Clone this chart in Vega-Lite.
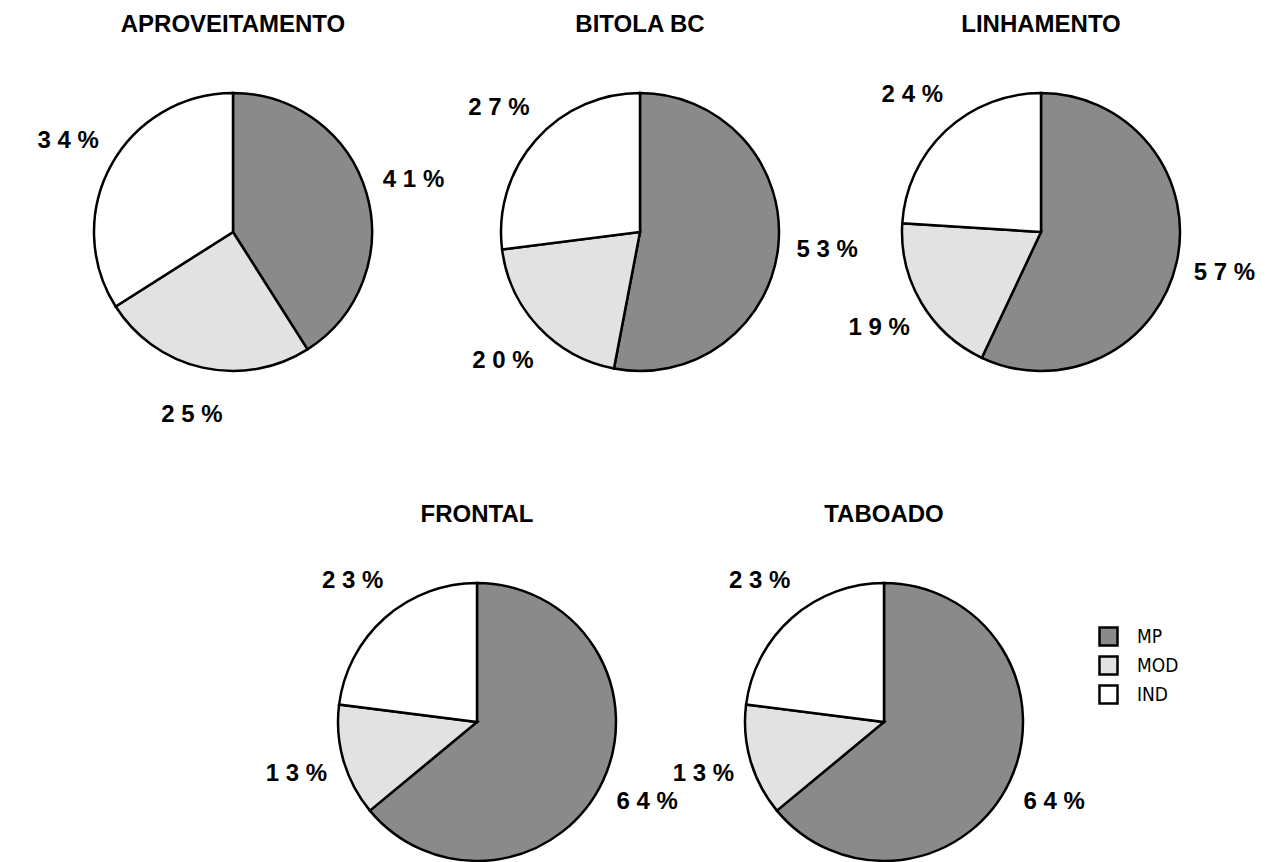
{
  "$schema": "https://vega.github.io/schema/vega-lite/v6.json",
  "background": "white",
  "padding": {"left": 37, "top": 13, "right": 10, "bottom": 0},
  "data": {"values": [
    {"chart": "APROVEITAMENTO", "cat": "MP", "seq": 1, "value": 41, "label": "4 1 %"},
    {"chart": "APROVEITAMENTO", "cat": "MOD", "seq": 2, "value": 25, "label": "2 5 %"},
    {"chart": "APROVEITAMENTO", "cat": "IND", "seq": 3, "value": 34, "label": "3 4 %"},
    {"chart": "BITOLA BC", "cat": "MP", "seq": 1, "value": 53, "label": "5 3 %"},
    {"chart": "BITOLA BC", "cat": "MOD", "seq": 2, "value": 20, "label": "2 0 %"},
    {"chart": "BITOLA BC", "cat": "IND", "seq": 3, "value": 27, "label": "2 7 %"},
    {"chart": "LINHAMENTO", "cat": "MP", "seq": 1, "value": 57, "label": "5 7 %"},
    {"chart": "LINHAMENTO", "cat": "MOD", "seq": 2, "value": 19, "label": "1 9 %"},
    {"chart": "LINHAMENTO", "cat": "IND", "seq": 3, "value": 24, "label": "2 4 %"},
    {"chart": "FRONTAL", "cat": "MP", "seq": 1, "value": 64, "label": "6 4 %"},
    {"chart": "FRONTAL", "cat": "MOD", "seq": 2, "value": 13, "label": "1 3 %"},
    {"chart": "FRONTAL", "cat": "IND", "seq": 3, "value": 23, "label": "2 3 %"},
    {"chart": "TABOADO", "cat": "MP", "seq": 1, "value": 64, "label": "6 4 %"},
    {"chart": "TABOADO", "cat": "MOD", "seq": 2, "value": 13, "label": "1 3 %"},
    {"chart": "TABOADO", "cat": "IND", "seq": 3, "value": 23, "label": "2 3 %"}
  ]},
  "spacing": 75,
  "vconcat": [
    {
      "spacing": 124,
      "bounds": "flush",
      "hconcat": [
        {
          "title": "APROVEITAMENTO",
          "width": 280, "height": 310,
          "transform": [{"filter": "datum.chart === 'APROVEITAMENTO'"}],
          "encoding": {
            "theta": {"field": "value", "type": "quantitative", "stack": true},
            "order": {"field": "seq", "type": "quantitative"}
          },
          "layer": [
            {"mark": {"type": "arc", "outerRadius": 139, "stroke": "black", "strokeWidth": 2.5},
             "encoding": {"color": {"field": "cat", "type": "nominal", "title": null, "scale": {"domain": ["MP", "MOD", "IND"], "range": ["#8a8a8a", "#e2e2e2", "#ffffff"]}}}},
            {"mark": {"type": "text", "radius": 188, "fontSize": 24, "fontWeight": "bold", "color": "black"},
             "encoding": {"text": {"field": "label"}, "detail": {"field": "cat"}}}
          ]
        },
        {
          "title": "BITOLA BC",
          "width": 286, "height": 310,
          "transform": [{"filter": "datum.chart === 'BITOLA BC'"}],
          "encoding": {
            "theta": {"field": "value", "type": "quantitative", "stack": true},
            "order": {"field": "seq", "type": "quantitative"}
          },
          "layer": [
            {"mark": {"type": "arc", "outerRadius": 139, "stroke": "black", "strokeWidth": 2.5},
             "encoding": {"color": {"field": "cat", "type": "nominal", "title": null, "scale": {"domain": ["MP", "MOD", "IND"], "range": ["#8a8a8a", "#e2e2e2", "#ffffff"]}}}},
            {"mark": {"type": "text", "radius": 188, "fontSize": 24, "fontWeight": "bold", "color": "black"},
             "encoding": {"text": {"field": "label"}, "detail": {"field": "cat"}}}
          ]
        },
        {
          "title": "LINHAMENTO",
          "width": 268, "height": 310,
          "transform": [{"filter": "datum.chart === 'LINHAMENTO'"}],
          "encoding": {
            "theta": {"field": "value", "type": "quantitative", "stack": true},
            "order": {"field": "seq", "type": "quantitative"}
          },
          "layer": [
            {"mark": {"type": "arc", "outerRadius": 139, "stroke": "black", "strokeWidth": 2.5},
             "encoding": {"color": {"field": "cat", "type": "nominal", "title": null, "scale": {"domain": ["MP", "MOD", "IND"], "range": ["#8a8a8a", "#e2e2e2", "#ffffff"]}}}},
            {"mark": {"type": "text", "radius": 188, "fontSize": 24, "fontWeight": "bold", "color": "black"},
             "encoding": {"text": {"field": "label"}, "detail": {"field": "cat"}}}
          ]
        }
      ]
    },
    {
      "spacing": 124,
      "bounds": "flush",
      "hconcat": [
        {
          "width": 120, "height": 310,
          "data": {"values": []},
          "mark": "point",
          "encoding": {}
        },
        {
          "title": "FRONTAL",
          "width": 280, "height": 310,
          "transform": [{"filter": "datum.chart === 'FRONTAL'"}],
          "encoding": {
            "theta": {"field": "value", "type": "quantitative", "stack": true},
            "order": {"field": "seq", "type": "quantitative"}
          },
          "layer": [
            {"mark": {"type": "arc", "outerRadius": 139, "stroke": "black", "strokeWidth": 2.5},
             "encoding": {"color": {"field": "cat", "type": "nominal", "title": null, "scale": {"domain": ["MP", "MOD", "IND"], "range": ["#8a8a8a", "#e2e2e2", "#ffffff"]}}}},
            {"mark": {"type": "text", "radius": 188, "fontSize": 24, "fontWeight": "bold", "color": "black"},
             "encoding": {"text": {"field": "label"}, "detail": {"field": "cat"}}}
          ]
        },
        {
          "title": "TABOADO",
          "width": 286, "height": 310,
          "transform": [{"filter": "datum.chart === 'TABOADO'"}],
          "encoding": {
            "theta": {"field": "value", "type": "quantitative", "stack": true},
            "order": {"field": "seq", "type": "quantitative"}
          },
          "layer": [
            {"mark": {"type": "arc", "outerRadius": 139, "stroke": "black", "strokeWidth": 2.5},
             "encoding": {"color": {"field": "cat", "type": "nominal", "title": null, "scale": {"domain": ["MP", "MOD", "IND"], "range": ["#8a8a8a", "#e2e2e2", "#ffffff"]}}}},
            {"mark": {"type": "text", "radius": 188, "fontSize": 24, "fontWeight": "bold", "color": "black"},
             "encoding": {"text": {"field": "label"}, "detail": {"field": "cat"}}}
          ]
        }
      ]
    }
  ],
  "resolve": {"scale": {"color": "shared"}},
  "config": {
    "view": {"stroke": null},
    "font": "Liberation Sans",
    "title": {"fontSize": 24, "fontWeight": "bold", "font": "Liberation Sans", "anchor": "middle", "frame": "group", "baseline": "alphabetic", "offset": 40, "color": "black"},
    "legend": {
      "orient": "none",
      "legendX": 1005,
      "legendY": 549,
      "padding": 0,
      "symbolType": "square",
      "symbolSize": 324,
      "symbolStrokeColor": "black",
      "symbolStrokeWidth": 2.5,
      "symbolOpacity": 1,
      "labelFont": "DejaVu Sans Condensed, Liberation Sans, sans-serif",
      "labelFontSize": 19,
      "labelColor": "black",
      "labelOffset": 18,
      "rowPadding": 0
    }
  }
}
